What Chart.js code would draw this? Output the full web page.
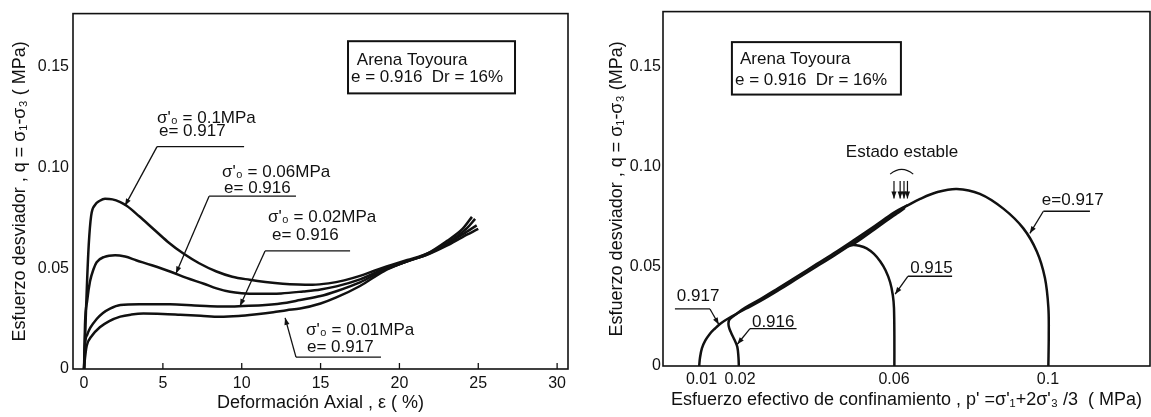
<!DOCTYPE html>
<html lang="es">
<head>
<meta charset="UTF-8">
<title>Arena Toyoura - ensayos no drenados</title>
<script src="https://cdn.jsdelivr.net/npm/chart.js"></script>
<style>
  body { margin: 0; background: #fff; }
  #wrap { position: relative; width: 1151px; height: 417px; }
  canvas { position: absolute; top: 0; }
  #left { left: 0; }
  #right { left: 580px; }
</style>
</head>
<body>
<div id="wrap">
  <canvas id="left" width="580" height="417"></canvas>
  <canvas id="right" width="571" height="417"></canvas>
</div>
<script>
// ---- left panel: q vs axial strain ----
const strainTicks = [0, 5, 10, 15, 20, 25, 30];
const qTicks = [0, 0.05, 0.10, 0.15];
const qTickLabels = ['0', '0.05', '0.10', '0.15'];

// sigma'0 = 0.1 MPa, e = 0.917
const eps100 = [0, 0.05, 0.12, 0.2, 0.3, 0.45, 0.7, 1.0, 1.33, 1.8, 2.3, 2.7, 3.5, 4.4, 5.3, 6.3, 7.3, 8.4, 9.4, 10.5, 11.5, 12.6, 13.6, 14.5, 15.5, 16.5, 17.5, 18.5, 19.5, 20.5, 21.5, 22.5, 23.5, 24.3, 24.8];
const q100 = [0, 0.012, 0.028, 0.045, 0.062, 0.076, 0.0815, 0.0835, 0.0845, 0.0842, 0.0828, 0.0810, 0.0758, 0.0695, 0.0632, 0.0573, 0.0525, 0.0484, 0.0458, 0.0443, 0.0432, 0.0423, 0.0419, 0.0418, 0.0425, 0.0440, 0.0462, 0.0490, 0.0516, 0.0541, 0.0565, 0.0600, 0.0650, 0.0700, 0.0745];
// sigma'0 = 0.06 MPa, e = 0.916
const eps060 = [0, 0.06, 0.2, 0.38, 0.6, 0.8, 1.3, 1.97, 2.6, 3.3, 4.3, 5.45, 6.5, 7.6, 8.4, 9.26, 10.0, 10.95, 12.5, 13.9, 15.0, 16.0, 17.5, 19.0, 20.5, 21.7, 23.0, 24.0, 24.9];
const q060 = [0, 0.022, 0.034, 0.0435, 0.0495, 0.053, 0.0557, 0.0565, 0.0558, 0.0540, 0.0515, 0.0484, 0.0452, 0.0423, 0.0400, 0.0383, 0.0376, 0.0373, 0.0375, 0.0385, 0.0395, 0.0410, 0.0445, 0.0495, 0.0535, 0.0566, 0.0620, 0.0668, 0.0713];
// sigma'0 = 0.02 MPa, e = 0.916
const eps020 = [0, 0.03, 0.08, 0.2, 0.4, 0.8, 1.2, 1.65, 2.3, 3.5, 5.45, 7.0, 8.0, 9.0, 10.1, 11.5, 12.85, 13.7, 15.0, 16.0, 17.5, 19.0, 20.5, 21.7, 23.0, 24.0, 25.0];
const q020 = [0, 0.006, 0.0135, 0.017, 0.0205, 0.0248, 0.0278, 0.0300, 0.0318, 0.0322, 0.0321, 0.0315, 0.0311, 0.0310, 0.0313, 0.0318, 0.0329, 0.0342, 0.0362, 0.0386, 0.0430, 0.0490, 0.0535, 0.0565, 0.0612, 0.0655, 0.0695];
// sigma'0 = 0.01 MPa, e = 0.917
const eps010 = [0, 0.03, 0.1, 0.17, 0.5, 1.0, 1.6, 2.3, 3.0, 3.76, 5.0, 6.1, 7.4, 8.6, 9.8, 10.95, 12.0, 12.85, 13.7, 15.0, 16.0, 17.5, 19.0, 20.5, 21.7, 23.0, 24.0, 24.6];
const q010 = [0, 0.003, 0.008, 0.0115, 0.0165, 0.0207, 0.0238, 0.0260, 0.0270, 0.0275, 0.0273, 0.0269, 0.0264, 0.0259, 0.0263, 0.0272, 0.0282, 0.0292, 0.0300, 0.0325, 0.0355, 0.0412, 0.0485, 0.0535, 0.0570, 0.0635, 0.0695, 0.0755];

// ---- right panel: q vs p' ----
const pTicks = [0.01, 0.02, 0.06, 0.1];
const pTickLabels = ['0.01', '0.02', '0.06', '0.1'];

// e = 0.917, p'0 = 0.01
const pA = [0.0094, 0.0096, 0.0101, 0.0110, 0.0122, 0.0135, 0.0148, 0.0163, 0.0178, 0.0215, 0.0252, 0.0300, 0.0350, 0.0400, 0.0450, 0.0500, 0.0550, 0.0600, 0.0630];
const qA = [0.0000, 0.0040, 0.0088, 0.0128, 0.0162, 0.0188, 0.0211, 0.0231, 0.0248, 0.0287, 0.0325, 0.0380, 0.0440, 0.0500, 0.0561, 0.0625, 0.0692, 0.0761, 0.0799];
// e = 0.916, p'0 = 0.02
const pB = [0.0197, 0.0196, 0.0193, 0.0186, 0.0178, 0.0172, 0.0170, 0.0173, 0.0185, 0.0215, 0.0252, 0.0300, 0.0350, 0.0400, 0.0450, 0.0500, 0.0550, 0.0600, 0.0635];
const qB = [0.0000, 0.0045, 0.0096, 0.0130, 0.0162, 0.0190, 0.0213, 0.0234, 0.0253, 0.0294, 0.0334, 0.0391, 0.0451, 0.0512, 0.0573, 0.0637, 0.0702, 0.0769, 0.0806];
// e = 0.915, p'0 = 0.06
const pC = [0.0601, 0.0601, 0.0600, 0.0597, 0.0590, 0.0578, 0.0564, 0.0548, 0.0529, 0.0510, 0.0494, 0.0482, 0.0500, 0.0550, 0.0600, 0.0628];
const qC = [0.0000, 0.0150, 0.0290, 0.0355, 0.0420, 0.0480, 0.0525, 0.0562, 0.0590, 0.0603, 0.0607, 0.0601, 0.0618, 0.0686, 0.0755, 0.0792];
// e = 0.917, p'0 = 0.1
const pD = [0.1001, 0.1002, 0.1001, 0.0992, 0.0971, 0.0936, 0.0884, 0.0823, 0.0763, 0.0711, 0.0668, 0.0630];
const qD = [0.0000, 0.0150, 0.0294, 0.0442, 0.0574, 0.0690, 0.0789, 0.0863, 0.0888, 0.0871, 0.0838, 0.0800];

// ---- annotations (data units) ----
const leftBox = { x1: 16.74, x2: 27.33, y1: 0.1627, y2: 0.1368,
  lines: [['Arena Toyoura', 17.3, 0.1534], ['e = 0.916  Dr = 16%', 16.93, 0.1446]] };
const leftNotes = [
  { lines: [["σ'₀ = 0.1MPa", 4.63, 0.1246], ['e= 0.917', 4.75, 0.1180]], rule: [4.63, 10.15, 0.1104], lead: [4.63, 0.1104, 2.6, 0.0811] },
  { lines: [["σ'₀ = 0.06MPa", 8.75, 0.0977], ['e= 0.916', 8.88, 0.0899]], rule: [7.93, 13.44, 0.0858], lead: [7.93, 0.0858, 5.83, 0.0474] },
  { lines: [["σ'₀ = 0.02MPa", 11.67, 0.0752], ['e= 0.916', 11.92, 0.0664]], rule: [11.48, 16.87, 0.0586], lead: [11.48, 0.0586, 9.89, 0.0313] },
  { lines: [["σ'₀ = 0.01MPa", 14.08, 0.0190], ['e= 0.917', 14.14, 0.0107]], rule: [13.44, 18.83, 0.0059], lead: [13.44, 0.0059, 12.75, 0.0254] }
];
const rightBox = { x1: 0.0179, x2: 0.0618, y1: 0.1624, y2: 0.1361,
  lines: [['Arena Toyoura', 0.0200, 0.1540], ['e = 0.916  Dr = 16%', 0.0187, 0.1430]] };
const rightNotes = [
  { lines: [['e=0.917', 0.0984, 0.0830]], rule: [0.0988, 0.1109, 0.0776], lead: [0.0988, 0.0776, 0.0953, 0.0665] },
  { lines: [['0.915', 0.0642, 0.0492]], rule: [0.0636, 0.0751, 0.0450], lead: [0.0636, 0.0450, 0.0603, 0.0360] },
  { lines: [['0.917', 0.0036, 0.0347]], rule: [0.0031, 0.0122, 0.0286], lead: [0.0122, 0.0286, 0.0145, 0.0208] },
  { lines: [['0.916', 0.0231, 0.0218]], rule: [0.0226, 0.0347, 0.0187], lead: [0.0226, 0.0187, 0.0193, 0.0109] }
];
const steadyArrowsP = [0.0600, 0.0616, 0.0626, 0.0635];

const FONT = "'Liberation Sans', Arial, sans-serif";
const INK = '#111';
Chart.defaults.font.family = FONT;
Chart.defaults.color = INK;

function pts(xs, ys) {
  return xs.map((x, i) => ({ x: x, y: ys[i] }));
}

function arrow(ctx, x1, y1, x2, y2) {
  ctx.beginPath();
  ctx.moveTo(x1, y1);
  ctx.lineTo(x2, y2);
  ctx.stroke();
  const a = Math.atan2(y2 - y1, x2 - x1);
  const len = 7, w = 2.6;
  ctx.beginPath();
  ctx.moveTo(x2, y2);
  ctx.lineTo(x2 - len * Math.cos(a) + w * Math.sin(a), y2 - len * Math.sin(a) - w * Math.cos(a));
  ctx.lineTo(x2 - len * Math.cos(a) - w * Math.sin(a), y2 - len * Math.sin(a) + w * Math.cos(a));
  ctx.closePath();
  ctx.fill();
}

function drawDecor(chart, box, notes, extra) {
  const ctx = chart.ctx;
  const xs = chart.scales.x, ys = chart.scales.y;
  const X = v => xs.getPixelForValue(v), Y = v => ys.getPixelForValue(v);
  const ca = chart.chartArea;
  ctx.save();
  ctx.strokeStyle = INK;
  ctx.fillStyle = INK;
  // frame
  ctx.lineWidth = 1.6;
  ctx.strokeRect(ca.left, ca.top, ca.right - ca.left, ca.bottom - ca.top);
  // legend box
  ctx.lineWidth = 2;
  ctx.strokeRect(X(box.x1), Y(box.y1), X(box.x2) - X(box.x1), Y(box.y2) - Y(box.y1));
  ctx.font = '17px ' + FONT;
  ctx.textBaseline = 'middle';
  ctx.textAlign = 'left';
  box.lines.forEach(l => ctx.fillText(l[0], X(l[1]), Y(l[2])));
  // labels with leader arrows
  ctx.lineWidth = 1.3;
  notes.forEach(n => {
    n.lines.forEach(l => ctx.fillText(l[0], X(l[1]), Y(l[2])));
    ctx.beginPath();
    ctx.moveTo(X(n.rule[0]), Y(n.rule[2]));
    ctx.lineTo(X(n.rule[1]), Y(n.rule[2]));
    ctx.stroke();
    arrow(ctx, X(n.lead[0]), Y(n.lead[1]), X(n.lead[2]), Y(n.lead[3]));
  });
  if (extra) extra(ctx, X, Y, ca);
  ctx.restore();
}

const lineStyle = { borderColor: INK, borderWidth: 2.5, pointRadius: 0, fill: false };

// left chart
new Chart(document.getElementById('left'), {
  type: 'line',
  data: {
    datasets: [
      Object.assign({ data: pts(eps100, q100) }, lineStyle),
      Object.assign({ data: pts(eps060, q060) }, lineStyle),
      Object.assign({ data: pts(eps020, q020) }, lineStyle),
      Object.assign({ data: pts(eps010, q010) }, lineStyle)
    ]
  },
  options: {
    responsive: false,
    animation: false,
    layout: { padding: { top: 8, right: 12, bottom: 0, left: 0 } },
    elements: { line: { cubicInterpolationMode: 'monotone' } },
    plugins: { legend: { display: false }, tooltip: { enabled: false } },
    scales: {
      x: {
        type: 'linear', min: -0.7, max: 30.69,
        grid: { display: false, drawTicks: false },
        border: { display: false },
        afterBuildTicks: s => { s.ticks = strainTicks.map(v => ({ value: v })); },
        afterFit: s => { s.height = 48; },
        ticks: { padding: 5, font: { size: 16 }, color: INK, callback: (v, i) => String(strainTicks[i]) },
        title: { display: true, text: 'Deformación Axial , ε ( %)', font: { size: 18 }, color: INK, padding: { top: 0, bottom: 3 } }
      },
      y: {
        type: 'linear', min: 0, max: 0.1764,
        grid: { display: false, drawTicks: false },
        border: { display: false },
        afterBuildTicks: s => { s.ticks = qTicks.map(v => ({ value: v })); },
        afterFit: s => { s.width = 73; },
        ticks: { padding: 4, font: { size: 16 }, color: INK, callback: (v, i) => qTickLabels[i] },
        title: { display: true, text: 'Esfuerzo desviador , q = σ₁-σ₃ ( MPa)', font: { size: 18 }, color: INK, padding: { top: 9, bottom: 0 } }
      }
    }
  },
  plugins: [{
    id: 'decorLeft',
    afterDraw: chart => drawDecor(chart, leftBox, leftNotes, (ctx, X, Y, ca) => {
      // inward tick marks on the strain axis
      ctx.lineWidth = 1.3;
      strainTicks.slice(1).forEach(v => {
        ctx.beginPath();
        ctx.moveTo(X(v), ca.bottom);
        ctx.lineTo(X(v), ca.bottom - 6);
        ctx.stroke();
      });
    })
  }]
});

// right chart
new Chart(document.getElementById('right'), {
  type: 'line',
  data: {
    datasets: [
      Object.assign({ data: pts(pA, qA), tension: 0.35 }, lineStyle),
      Object.assign({ data: pts(pB, qB), tension: 0.35 }, lineStyle),
      Object.assign({ data: pts(pC, qC), tension: 0.3 }, lineStyle),
      Object.assign({ data: pts(pD, qD), tension: 0.35 }, lineStyle)
    ]
  },
  options: {
    responsive: false,
    animation: false,
    layout: { padding: { top: 7, right: 1, bottom: 0, left: 0 } },
    plugins: { legend: { display: false }, tooltip: { enabled: false } },
    scales: {
      x: {
        type: 'linear', min: 0, max: 0.1265,
        grid: { display: false, drawTicks: false },
        border: { display: false },
        afterBuildTicks: s => { s.ticks = pTicks.map(v => ({ value: v })); },
        afterFit: s => { s.height = 51; },
        ticks: { padding: 4, font: { size: 16 }, color: INK, callback: (v, i) => pTickLabels[i] },
        title: { display: true, text: "Esfuerzo efectivo de confinamiento , p' =σ'₁+2σ'₃ /3  ( MPa)", font: { size: 18 }, color: INK, padding: { top: 0, bottom: 6 } }
      },
      y: {
        type: 'linear', min: 0, max: 0.1777,
        grid: { display: false, drawTicks: false },
        border: { display: false },
        afterBuildTicks: s => { s.ticks = qTicks.map(v => ({ value: v })); },
        afterFit: s => { s.width = 83; },
        ticks: { padding: 2, font: { size: 16 }, color: INK, callback: (v, i) => qTickLabels[i] },
        title: { display: true, text: 'Esfuerzo desviador , q = σ₁-σ₃ (MPa)', font: { size: 18 }, color: INK, padding: { top: 26, bottom: 0 } }
      }
    }
  },
  plugins: [{
    id: 'decorRight',
    afterDraw: chart => drawDecor(chart, rightBox, rightNotes, (ctx, X, Y) => {
      // "Estado estable" marker
      ctx.font = '17px ' + FONT;
      ctx.textAlign = 'center';
      ctx.fillText('Estado estable', X(0.0621), Y(0.1069));
      ctx.lineWidth = 1.2;
      ctx.beginPath();
      ctx.moveTo(X(0.0590), Y(0.0962));
      ctx.quadraticCurveTo(X(0.0620), Y(0.1010), X(0.0650), Y(0.0962));
      ctx.stroke();
      steadyArrowsP.forEach(p => arrow(ctx, X(p), Y(0.0928), X(p), Y(0.0840)));
    })
  }]
});
</script>
</body>
</html>
